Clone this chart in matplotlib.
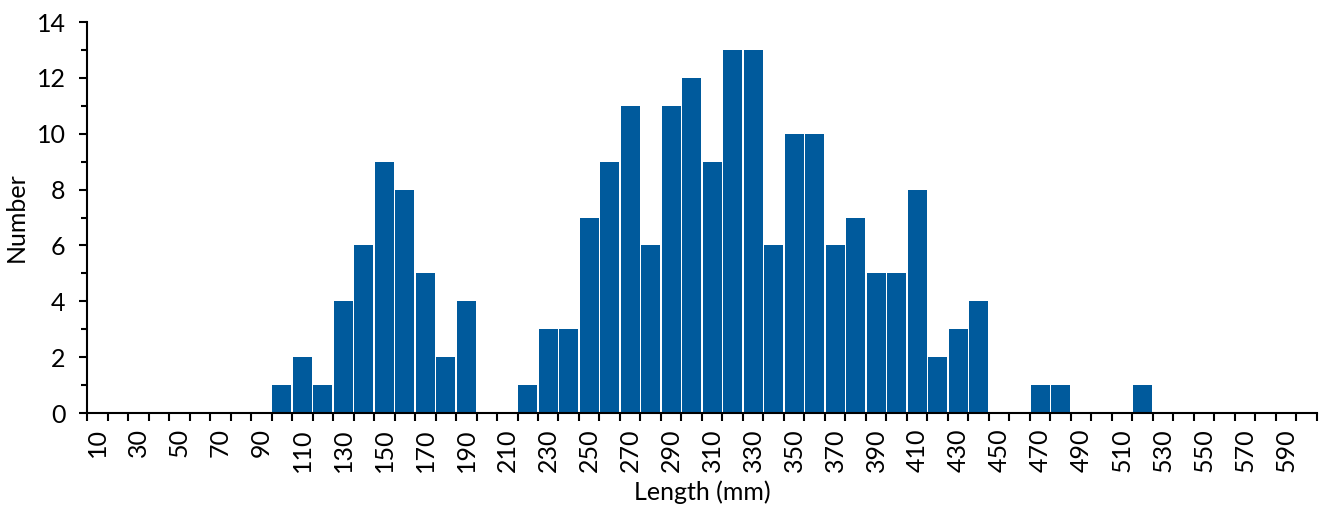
import matplotlib.pyplot as plt
from matplotlib.ticker import FixedLocator, MultipleLocator

plt.rcParams['font.family'] = ['Lato', 'DejaVu Sans']

# length bins (mm) and counts
lengths = list(range(10, 610, 10))
counts = [0, 0, 0, 0, 0, 0, 0, 0, 0, 1,
          2, 1, 4, 6, 9, 8, 5, 2, 4, 0,
          0, 1, 3, 3, 7, 9, 11, 6, 11, 12,
          9, 13, 13, 6, 10, 10, 6, 7, 5, 5,
          8, 2, 3, 4, 0, 0, 1, 1, 0, 0,
          0, 1, 0, 0, 0, 0, 0, 0, 0, 0]
tick_labels = [str(v) for v in lengths[::2]]

fig = plt.figure(figsize=(13.21, 5.07), dpi=100)
ax = fig.add_axes([0.0659, 0.1854, 0.931, 0.7712])

pos = [i + 0.5 for i in range(len(lengths))]
ax.bar(pos, counts, width=0.92, color='#005a9c')

ax.set_xlim(0, len(lengths))
ax.set_ylim(0, 14)

# ticks at bin edges, labels at bin centres
ax.xaxis.set_major_locator(FixedLocator([i + 0.5 for i in range(0, len(lengths), 2)]))
ax.set_xticklabels(tick_labels, rotation=90, fontsize=18)
ax.tick_params(axis='x', which='major', length=0, pad=11)
ax.xaxis.set_minor_locator(FixedLocator(range(0, len(lengths) + 1)))
ax.tick_params(axis='x', which='minor', length=5.5, width=1.5, direction='out')

ax.yaxis.set_major_locator(MultipleLocator(2))
ax.yaxis.set_minor_locator(MultipleLocator(1))
ax.tick_params(axis='y', which='major', length=5.5, width=1.5, labelsize=18, pad=10)
ax.tick_params(axis='y', which='minor', length=4, width=1.5)

for side in ['top', 'right']:
    ax.spines[side].set_visible(False)
for side in ['left', 'bottom']:
    ax.spines[side].set_linewidth(1.5)

ax.set_xlabel('Length (mm)', fontsize=18, labelpad=6)
ax.set_ylabel('Number', fontsize=18, labelpad=6)

fig.savefig('out.png', dpi=100)
